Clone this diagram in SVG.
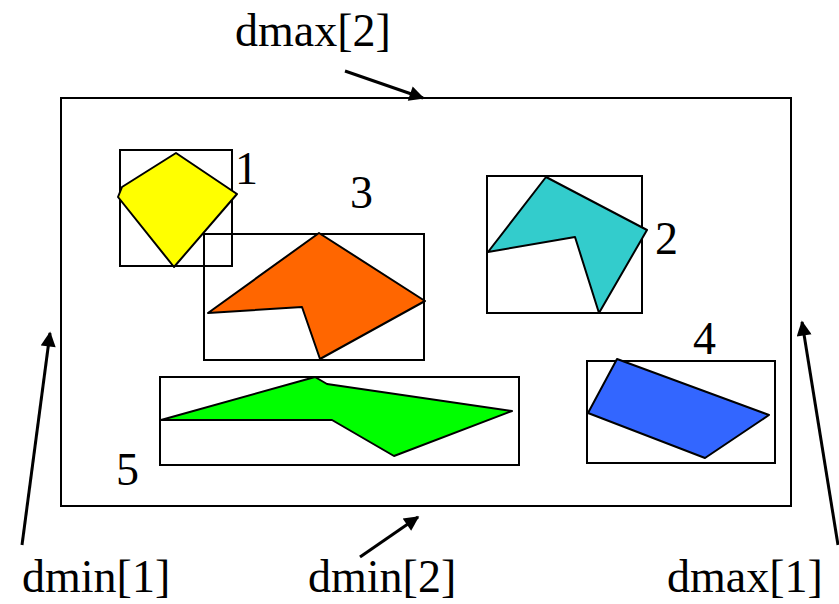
<svg xmlns="http://www.w3.org/2000/svg" width="839" height="604" viewBox="0 0 839 604">
<style>
.box{fill:none;stroke:#000;stroke-width:2}
.poly{stroke:#000;stroke-width:2;stroke-linejoin:round}
.lbl{font-family:"Liberation Serif","Times New Roman",serif;font-size:46px;fill:#000}
.arr{stroke:#000;stroke-width:3;fill:none}
</style>
<defs>
<marker id="ah" viewBox="0 0 10 10" refX="9" refY="5" markerWidth="6" markerHeight="5" markerUnits="strokeWidth" orient="auto">
<path d="M0,0 L10,5 L0,10 z" fill="#000"/>
</marker>
</defs>
<rect width="839" height="604" fill="#fff"/>
<g id="outer"><rect class="box" x="61" y="98" width="730" height="408"/></g>
<g id="node1">
<rect class="box" x="120" y="150" width="112" height="116"/>
<polygon class="poly" fill="#ffff00" points="176,153 237,194 174,267 118,197 122,187"/>
<text class="lbl" x="235" y="184">1</text>
</g>
<g id="node3">
<rect class="box" x="204" y="234" width="220" height="126"/>
<polygon class="poly" fill="#ff6600" points="319,233 425,301 320,359 302,307 208,313"/>
<text class="lbl" x="350" y="208">3</text>
</g>
<g id="node2">
<rect class="box" x="487" y="176" width="155" height="137"/>
<polygon class="poly" fill="#33cccc" points="546,177 647,230 599,313 575,237 488,252"/>
<text class="lbl" x="655" y="254">2</text>
</g>
<g id="node5">
<rect class="box" x="160" y="377" width="359" height="88"/>
<polygon class="poly" fill="#00ff00" points="161,420 315,377 327,384 512,411 394,456 332,420"/>
<text class="lbl" x="116" y="485">5</text>
</g>
<g id="node4">
<rect class="box" x="587" y="361" width="188" height="102"/>
<polygon class="poly" fill="#3366ff" points="617,359 769,415 705,458 588,413"/>
<text class="lbl" x="693" y="354">4</text>
</g>
<g id="labels">
<text class="lbl" x="235" y="46">dmax[2]</text>
<text class="lbl" x="22" y="592">dmin[1]</text>
<text class="lbl" x="308" y="592">dmin[2]</text>
<text class="lbl" x="667" y="592">dmax[1]</text>
</g>
<g id="connectors">
<line class="arr" x1="345" y1="71" x2="423" y2="98" marker-end="url(#ah)"/>
<line class="arr" x1="360" y1="557" x2="418" y2="517" marker-end="url(#ah)"/>
<line class="arr" x1="22" y1="545" x2="50" y2="333" marker-end="url(#ah)"/>
<line class="arr" x1="838" y1="545" x2="802" y2="322" marker-end="url(#ah)"/>
</g>
</svg>
